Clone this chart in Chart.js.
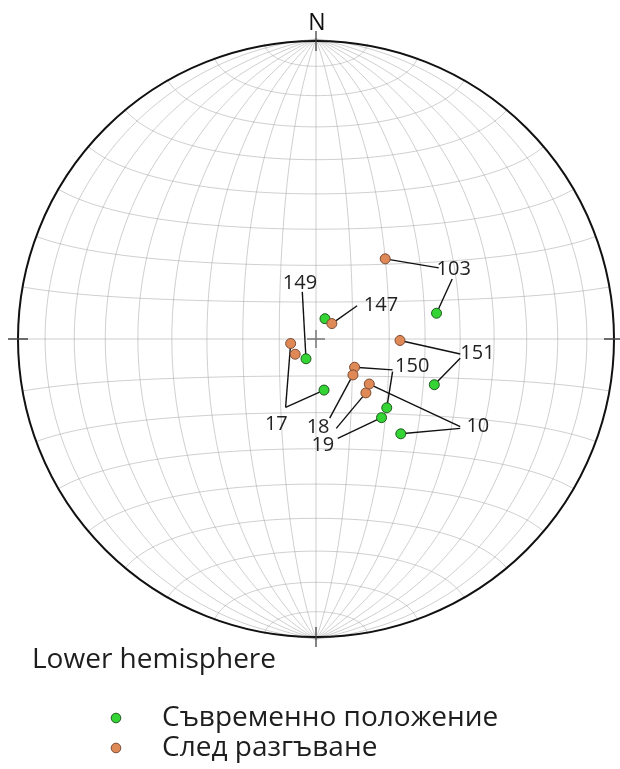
<!DOCTYPE html>
<html>
<head>
<meta charset="utf-8">
<script src="https://cdn.jsdelivr.net/npm/chart.js@4/dist/chart.umd.min.js"></script>
<style>
  html, body { margin: 0; padding: 0; background: #fff; }
  #wrap { width: 620px; height: 769px; position: relative; }
</style>
</head>
<body>
<div id="wrap"><canvas id="net"></canvas></div>
<script>
// Sample numbers
const sampleIds = ['103', '147', '149', '17', '151', '150', '18', '19', '10'];
// Present-day orientation: trend / plunge, degrees (sample 18 has no present-day reading)
const presentTrend  = [78, 24, 207, 171, 111, 134, null, 140, 138];
const presentPlunge = [56, 84, 84, 76, 55, 63, null, 62, 55];
// Orientation after unfolding: trend / plunge, degrees
const unfoldedTrend  = [41, 46, 234, 260, 91, 126, 134, 137, 130];
const unfoldedPlunge = [61, 84, 83, 83, 67, 77, 76, 70, 71];

const seriesNames = ['Съвременно положение', 'След разгъване'];
const netCaption = 'Lower hemisphere';
const northLabel = 'N';

// Equal-area (Schmidt) projection, lower hemisphere, unit primitive circle
function project(trend, plunge) {
  const t = trend * Math.PI / 180, p = plunge * Math.PI / 180;
  const r = Math.sqrt(1 - Math.sin(p));
  return { x: r * Math.sin(t), y: r * Math.cos(t) };
}
function projectVec(e, n, d) {
  const h = Math.hypot(e, n);
  const r = Math.sqrt(Math.max(0, 1 - d));
  return h < 1e-12 ? { x: 0, y: 0 } : { x: r * e / h, y: r * n / h };
}

function toPoints(trends, plunges) {
  return sampleIds.map((id, i) => {
    if (trends[i] == null) return null;
    const p = project(trends[i], plunges[i]);
    return { x: p.x, y: p.y, id };
  }).filter(Boolean);
}

// Label placement in net units, and leader lines from each label to its points
const labelLayout = {
  '103': { at: [0.462, 0.233], leaders: [{ from: [0.412, 0.237], to: 'after' }, { from: [0.457, 0.200], to: 'now' }] },
  '149': { at: [-0.054, 0.186], leaders: [{ from: [-0.046, 0.157], to: 'now' }] },
  '147': { at: [0.218, 0.113], leaders: [{ from: [0.138, 0.111], to: 'after' }] },
  '151': { at: [0.542, -0.048], leaders: [{ from: [0.484, -0.050], to: 'after' }, { from: [0.484, -0.064], to: 'now' }] },
  '150': { at: [0.323, -0.092], leaders: [{ from: [0.257, -0.103], to: 'after' }, { from: [0.257, -0.109], to: 'now' }] },
  '17':  { at: [-0.133, -0.285], leaders: [{ from: [-0.102, -0.228], to: 'after' }, { from: [-0.102, -0.228], to: 'now' }] },
  '18':  { at: [0.007, -0.295], leaders: [{ from: [0.046, -0.264], to: 'after' }] },
  '19':  { at: [0.023, -0.353], leaders: [{ from: [0.068, -0.298], to: 'after' }, { from: [0.073, -0.331], to: 'now' }] },
  '10':  { at: [0.543, -0.292], leaders: [{ from: [0.484, -0.292], to: 'after' }, { from: [0.484, -0.298], to: 'now' }] }
};

const presentPts = toPoints(presentTrend, presentPlunge);
const unfoldedPts = toPoints(unfoldedTrend, unfoldedPlunge);

const FONT = '"Open Sans", "Noto Sans", sans-serif';

const stereonetPlugin = {
  id: 'stereonet',
  beforeDatasetsDraw(chart) {
    const ctx = chart.ctx;
    const xs = chart.scales.x, ys = chart.scales.y;
    const X = v => xs.getPixelForValue(v), Y = v => ys.getPixelForValue(v);
    const cx = X(0), cy = Y(0), R = X(1) - X(0);

    ctx.save();
    // grid: great circles through N and S, small circles about the N-S axis, 10° spacing
    ctx.strokeStyle = 'rgba(165,165,165,0.6)';
    ctx.lineWidth = 0.9;
    const N = 120;
    const line = pts => {
      ctx.beginPath();
      pts.forEach((p, i) => i ? ctx.lineTo(X(p.x), Y(p.y)) : ctx.moveTo(X(p.x), Y(p.y)));
      ctx.stroke();
    };
    for (let dip = 10; dip <= 80; dip += 10) {
      const dr = dip * Math.PI / 180;
      for (const s of [1, -1]) {
        const pts = [];
        for (let k = 0; k <= N; k++) {
          const t = Math.PI * k / N;
          pts.push(projectVec(s * Math.sin(t) * Math.cos(dr), Math.cos(t), Math.sin(t) * Math.sin(dr)));
        }
        line(pts);
      }
    }
    for (let a = 10; a <= 80; a += 10) {
      const ar = a * Math.PI / 180;
      for (const s of [1, -1]) {
        const pts = [];
        for (let k = 0; k <= N; k++) {
          const f = Math.PI * k / N;
          pts.push(projectVec(Math.sin(ar) * Math.cos(f), s * Math.cos(ar), Math.sin(ar) * Math.sin(f)));
        }
        line(pts);
      }
    }
    line([{ x: 0, y: 1 }, { x: 0, y: -1 }]);
    line([{ x: -1, y: 0 }, { x: 1, y: 0 }]);

    // primitive circle
    ctx.strokeStyle = '#111';
    ctx.lineWidth = 2;
    ctx.beginPath();
    ctx.arc(cx, cy, R, 0, Math.PI * 2);
    ctx.stroke();

    // cardinal ticks
    ctx.strokeStyle = '#444';
    ctx.lineWidth = 1.3;
    const tk = 10;
    ctx.beginPath();
    ctx.moveTo(cx, cy - R - tk); ctx.lineTo(cx, cy - R + tk);
    ctx.moveTo(cx, cy + R - tk); ctx.lineTo(cx, cy + R + tk);
    ctx.moveTo(cx - R - tk, cy); ctx.lineTo(cx - R + tk, cy);
    ctx.moveTo(cx + R - tk, cy); ctx.lineTo(cx + R + tk, cy);
    ctx.stroke();

    // centre cross
    ctx.strokeStyle = '#7a7a7a';
    ctx.lineWidth = 1.5;
    ctx.beginPath();
    ctx.moveTo(cx - 9, cy); ctx.lineTo(cx + 9, cy);
    ctx.moveTo(cx, cy - 9); ctx.lineTo(cx, cy + 9);
    ctx.stroke();

    // north label
    ctx.fillStyle = '#111';
    ctx.font = '23px ' + FONT;
    ctx.textAlign = 'center';
    ctx.textBaseline = 'middle';
    ctx.fillText(northLabel, cx + 1, cy - R - 18);

    // leader lines
    const lookup = { now: presentPts, after: unfoldedPts };
    ctx.strokeStyle = '#111';
    ctx.lineWidth = 1.4;
    for (const id of Object.keys(labelLayout)) {
      for (const ld of labelLayout[id].leaders) {
        const target = lookup[ld.to].find(p => p.id === id);
        if (!target) continue;
        ctx.beginPath();
        ctx.moveTo(X(ld.from[0]), Y(ld.from[1]));
        ctx.lineTo(X(target.x), Y(target.y));
        ctx.stroke();
      }
    }

    // sample labels
    ctx.fillStyle = '#222';
    ctx.font = '20px ' + FONT;
    for (const id of Object.keys(labelLayout)) {
      const at = labelLayout[id].at;
      ctx.fillText(id, X(at[0]), Y(at[1]));
    }
    ctx.restore();
  },
  afterDraw(chart) {
    const ctx = chart.ctx;
    ctx.save();
    ctx.fillStyle = '#1e1e1e';
    ctx.textAlign = 'left';
    ctx.textBaseline = 'middle';
    ctx.font = '28px ' + FONT;
    ctx.fillText(netCaption, 32, 660);

    chart.data.datasets.forEach((ds, i) => {
      const y = 718 + i * 30;
      ctx.beginPath();
      ctx.arc(116, y, 4.8, 0, Math.PI * 2);
      ctx.fillStyle = ds.backgroundColor;
      ctx.fill();
      ctx.lineWidth = 1;
      ctx.strokeStyle = ds.borderColor;
      ctx.stroke();
      ctx.fillStyle = '#1e1e1e';
      ctx.font = '28px ' + FONT;
      ctx.fillText(ds.label, 162, y);
    });
    ctx.restore();
  }
};

new Chart(document.getElementById('net'), {
  type: 'scatter',
  data: {
    datasets: [
      {
        label: seriesNames[0],
        data: presentPts,
        backgroundColor: '#33d433',
        borderColor: '#1d5a1d',
        borderWidth: 1,
        pointRadius: 5,
        order: 2
      },
      {
        label: seriesNames[1],
        data: unfoldedPts,
        backgroundColor: '#df8957',
        borderColor: '#7a4b33',
        borderWidth: 1,
        pointRadius: 5,
        order: 1
      }
    ]
  },
  options: {
    responsive: true,
    maintainAspectRatio: false,
    animation: false,
    layout: { padding: { top: 39, left: 18, right: 2, bottom: 130 } },
    scales: {
      x: { type: 'linear', min: -1, max: 1, display: false },
      y: { type: 'linear', min: -1, max: 1, display: false }
    },
    plugins: {
      legend: { display: false },
      tooltip: { enabled: false }
    }
  },
  plugins: [stereonetPlugin]
});
</script>
</body>
</html>
